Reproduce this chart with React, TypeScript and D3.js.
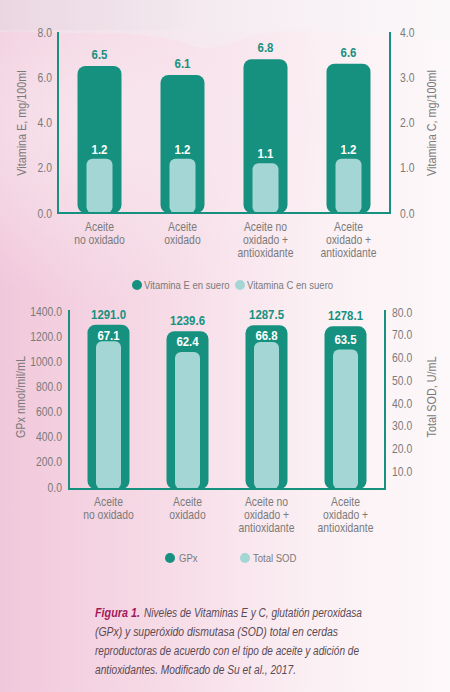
import React, { useEffect } from "react";
import * as d3 from "d3";

const categories: string[][] = [
  ["Aceite", "no oxidado"],
  ["Aceite", "oxidado"],
  ["Aceite no", "oxidado +", "antioxidante"],
  ["Aceite", "oxidado +", "antioxidante"],
];
const vitaminaE = [6.5, 6.1, 6.8, 6.6];
const vitaminaC = [1.2, 1.2, 1.1, 1.2];
const gpx = [1291.0, 1239.6, 1287.5, 1278.1];
const sod = [67.1, 62.4, 66.8, 63.5];
const ticksE = [0, 2, 4, 6, 8];
const ticksC = [0, 1, 2, 3, 4];
const ticksGpx = [0, 200, 400, 600, 800, 1000, 1200, 1400];
const ticksSod = [10, 20, 30, 40, 50, 60, 70, 80];
const legendTop = ["Vitamina E en suero", "Vitamina C en suero"];
const legendBottom = ["GPx", "Total SOD"];
const captionBold = "Figura 1.";
const captionLines = [
  "Niveles de Vitaminas E y C, glutatión peroxidasa",
  "(GPx) y superóxido dismutasa (SOD) total en cerdas",
  "reproductoras de acuerdo con el tipo de aceite y adición de",
  "antioxidantes. Modificado de Su et al., 2017.",
];
const captionWidths = [218, 243, 264, 201];

const TEAL = "#16917f";
const LIGHT = "#a3d6d4";
const GRAY = "#7a7a7a";
const FONT = "'Liberation Sans', Arial, sans-serif";
const SX = 0.83;
const SXB = 0.88;

type TProps = {
  x: number;
  y: number;
  rot?: number;
  sx?: number;
  children?: React.ReactNode;
  [k: string]: any;
};

function T({ x, y, rot = 0, sx = SX, children, ...rest }: TProps) {
  return (
    <text
      transform={`translate(${x},${y})${rot ? ` rotate(${rot})` : ""} scale(${sx},1)`}
      {...rest}
    >
      {children}
    </text>
  );
}

export default function App() {
  useEffect(() => {
    document.body.style.margin = "0";
  }, []);

  const idx = categories.map((_, i) => String(i));

  // Top chart
  const x1 = d3.scaleBand<string>().domain(idx).range([58, 390]);
  const yE = d3.scaleLinear().domain([0, 8]).range([213, 32]);
  const yC = d3.scaleLinear().domain([0, 4]).range([213, 32]);
  const base1 = 213;

  // Bottom chart
  const x2 = d3.scaleBand<string>().domain(idx).range([69, 385]);
  const yG = d3.scaleLinear().domain([0, 1400]).range([487, 311]);
  const yS = d3.scaleLinear().domain([0, 80]).range([494, 312]);
  const base2 = 489;

  const cx1 = (i: number) => (x1(String(i)) as number) + x1.bandwidth() / 2;
  const cx2 = (i: number) => (x2(String(i)) as number) + x2.bandwidth() / 2;

  return (
    <svg
      width={450}
      height={692}
      style={{ position: "absolute", left: 0, top: 0, display: "block" }}
      fontFamily={FONT}
    >
      <defs>
        <linearGradient id="bgH" x1="0" x2="1" y1="0" y2="0">
          <stop offset="0" stopColor="#f1c8db" />
          <stop offset="0.35" stopColor="#f6dae6" />
          <stop offset="0.7" stopColor="#fbf0f4" />
          <stop offset="1" stopColor="#fdf8fa" />
        </linearGradient>
        <linearGradient id="topBand" x1="0" x2="1" y1="0" y2="0">
          <stop offset="0" stopColor="#ead6e1" />
          <stop offset="0.5" stopColor="#f5ecf1" />
          <stop offset="1" stopColor="#fbf8fa" />
        </linearGradient>
        <radialGradient id="blob" cx="0.25" cy="0.3" r="0.6">
          <stop offset="0" stopColor="#f8e8ef" stopOpacity="0.9" />
          <stop offset="1" stopColor="#f8e8ef" stopOpacity="0" />
        </radialGradient>
      </defs>
      <rect x={0} y={0} width={450} height={692} fill="url(#bgH)" />
      <path
        d="M0,0 H450 V40 C400,38 330,30 280,32 C240,34 215,55 190,45 C170,36 120,32 80,33 C50,34 20,30 0,32 Z"
        fill="url(#topBand)"
      />
      <rect x={0} y={30} width={450} height={300} fill="url(#blob)" />

      {/* ===== Top chart ===== */}
      {vitaminaE.map((v, i) => (
        <rect
          key={"e" + i}
          x={cx1(i) - 22}
          y={yE(v)}
          width={44}
          height={base1 - yE(v)}
          rx={8}
          fill={TEAL}
        />
      ))}
      {vitaminaC.map((v, i) => (
        <rect
          key={"c" + i}
          x={cx1(i) - 13}
          y={yC(v)}
          width={26}
          height={base1 - yC(v)}
          rx={6}
          fill={LIGHT}
        />
      ))}
      {vitaminaE.map((v, i) => (
        <T
          key={"el" + i}
          x={cx1(i)}
          y={yE(v) - 7}
          sx={SXB}
          textAnchor="middle"
          fontSize={13}
          fontWeight="bold"
          fill={TEAL}
        >
          {v.toFixed(1)}
        </T>
      ))}
      {vitaminaC.map((v, i) => (
        <T
          key={"cl" + i}
          x={cx1(i)}
          y={yC(v) - 5}
          sx={SXB}
          textAnchor="middle"
          fontSize={13}
          fontWeight="bold"
          fill="#ffffff"
        >
          {v.toFixed(1)}
        </T>
      ))}
      <line x1={58} x2={58} y1={32} y2={base1 + 1} stroke={TEAL} strokeWidth={2} />
      <line x1={390} x2={390} y1={32} y2={base1 + 1} stroke={TEAL} strokeWidth={2} />
      <line x1={57} x2={391} y1={base1} y2={base1} stroke={TEAL} strokeWidth={2} />
      {ticksE.map((t) => (
        <T key={"te" + t} x={52} y={yE(t) + 4.5} textAnchor="end" fontSize={12.5} fill={GRAY}>
          {t.toFixed(1)}
        </T>
      ))}
      {ticksC.map((t) => (
        <T key={"tc" + t} x={400} y={yC(t) + 4.5} textAnchor="start" fontSize={12.5} fill={GRAY}>
          {t.toFixed(1)}
        </T>
      ))}
      <T x={26} y={123} rot={-90} textAnchor="middle" fontSize={13} fill={GRAY}>
        Vitamina E, mg/100ml
      </T>
      <T x={436} y={123} rot={-90} textAnchor="middle" fontSize={13} fill={GRAY}>
        Vitamina C, mg/100ml
      </T>
      {categories.map((lines, i) => (
        <T key={"cat1" + i} x={cx1(i)} y={231} textAnchor="middle" fontSize={12.5} fill={GRAY}>
          {lines.map((l, j) => (
            <tspan key={j} x={0} dy={j === 0 ? 0 : 13}>
              {l}
            </tspan>
          ))}
        </T>
      ))}
      <circle cx={137} cy={285} r={5} fill={TEAL} />
      <T x={144} y={289} fontSize={11.5} fill={GRAY}>
        {legendTop[0]}
      </T>
      <circle cx={240} cy={285} r={5} fill={LIGHT} />
      <T x={247} y={289} fontSize={11.5} fill={GRAY}>
        {legendTop[1]}
      </T>

      {/* ===== Bottom chart ===== */}
      {gpx.map((v, i) => (
        <rect
          key={"g" + i}
          x={cx2(i) - 21}
          y={yG(v)}
          width={42}
          height={base2 - yG(v)}
          rx={8}
          fill={TEAL}
        />
      ))}
      {sod.map((v, i) => (
        <rect
          key={"s" + i}
          x={cx2(i) - 12.5}
          y={yS(v)}
          width={25}
          height={base2 - yS(v)}
          rx={6}
          fill={LIGHT}
        />
      ))}
      {gpx.map((v, i) => (
        <T
          key={"gl" + i}
          x={cx2(i)}
          y={yG(v) - 6}
          sx={SXB}
          textAnchor="middle"
          fontSize={13}
          fontWeight="bold"
          fill={TEAL}
        >
          {v.toFixed(1)}
        </T>
      ))}
      {sod.map((v, i) => (
        <T
          key={"sl" + i}
          x={cx2(i)}
          y={Math.max(yS(v) - 6, yG(gpx[i]) + 15)}
          sx={SXB}
          textAnchor="middle"
          fontSize={13}
          fontWeight="bold"
          fill="#ffffff"
        >
          {v.toFixed(1)}
        </T>
      ))}
      <line x1={69} x2={69} y1={310} y2={base2 + 1} stroke={TEAL} strokeWidth={2} />
      <line x1={385} x2={385} y1={310} y2={base2 + 1} stroke={TEAL} strokeWidth={2} />
      <line x1={68} x2={386} y1={base2} y2={base2} stroke={TEAL} strokeWidth={2} />
      {ticksGpx.map((t) => (
        <T key={"tg" + t} x={62} y={yG(t) + 4.5} textAnchor="end" fontSize={12.5} fill={GRAY}>
          {t.toFixed(1)}
        </T>
      ))}
      {ticksSod.map((t) => (
        <T key={"ts" + t} x={392} y={yS(t) + 4.5} textAnchor="start" fontSize={12.5} fill={GRAY}>
          {t.toFixed(1)}
        </T>
      ))}
      <T x={25} y={397} rot={-90} textAnchor="middle" fontSize={13} fill={GRAY}>
        GPx nmol/mil/mL
      </T>
      <T x={436} y={397} rot={-90} textAnchor="middle" fontSize={13} fill={GRAY}>
        Total SOD, U/mL
      </T>
      {categories.map((lines, i) => (
        <T key={"cat2" + i} x={cx2(i)} y={506} textAnchor="middle" fontSize={12.5} fill={GRAY}>
          {lines.map((l, j) => (
            <tspan key={j} x={0} dy={j === 0 ? 0 : 13}>
              {l}
            </tspan>
          ))}
        </T>
      ))}
      <circle cx={170} cy={558} r={5} fill={TEAL} />
      <T x={179} y={562} fontSize={11.5} fill={GRAY}>
        {legendBottom[0]}
      </T>
      <circle cx={245} cy={558} r={5} fill={LIGHT} />
      <T x={253} y={562} fontSize={11.5} fill={GRAY}>
        {legendBottom[1]}
      </T>

      {/* ===== Caption ===== */}
      <text
        x={95}
        y={617}
        fontSize={12.5}
        fontStyle="italic"
        fontWeight="bold"
        fill="#a3195b"
        textLength={45}
        lengthAdjust="spacingAndGlyphs"
      >
        {captionBold}
      </text>
      {captionLines.map((l, i) => (
        <text
          key={"cap" + i}
          x={i === 0 ? 144 : 95}
          y={617 + i * 19}
          fontSize={12.5}
          fontStyle="italic"
          fill="#5a4a55"
          textLength={captionWidths[i]}
          lengthAdjust="spacingAndGlyphs"
        >
          {l}
        </text>
      ))}
    </svg>
  );
}
